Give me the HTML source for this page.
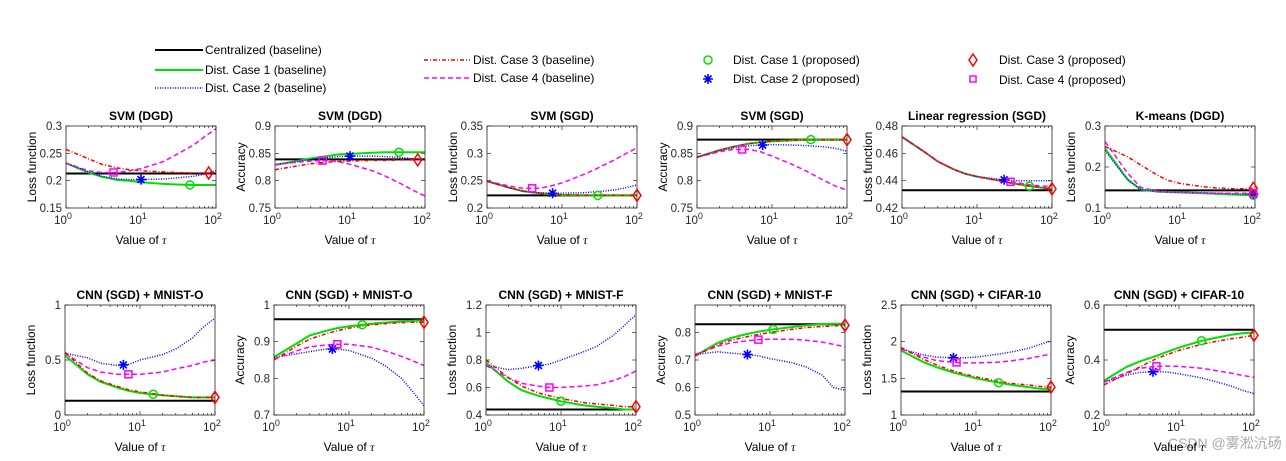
<!DOCTYPE html>
<html><head><meta charset="utf-8"><style>
html,body{margin:0;padding:0;background:#fff;}
svg{display:block;font-family:"Liberation Sans",Arial,sans-serif;}
</style></head><body>
<svg id="fig" width="1286" height="461" viewBox="0 0 1286 461" xmlns="http://www.w3.org/2000/svg">
<g id="legend" font-size="12" fill="#000">
 <g><line x1="155" y1="50" x2="203" y2="50" stroke="#000" stroke-width="2"/><text x="205" y="54">Centralized (baseline)</text></g>
 <g><line x1="155" y1="70" x2="203" y2="70" stroke="#00e000" stroke-width="2"/><text x="205" y="74">Dist. Case 1 (baseline)</text></g>
 <g><line x1="155" y1="88" x2="203" y2="88" stroke="#0000ff" stroke-width="1.5" stroke-dasharray="1,1.5"/><text x="205" y="92">Dist. Case 2 (baseline)</text></g>
 <g><line x1="424" y1="60" x2="470" y2="60" stroke="#ff0000" stroke-width="1.5" stroke-dasharray="4,2,1,2"/><text x="473" y="64">Dist. Case 3 (baseline)</text></g>
 <g><line x1="424" y1="78" x2="470" y2="78" stroke="#ff00ff" stroke-width="1.5" stroke-dasharray="5,3"/><text x="473" y="82">Dist. Case 4 (baseline)</text></g>
 <g><circle cx="708" cy="60" r="4" fill="none" stroke="#00e000" stroke-width="1.5"/><text x="733" y="64">Dist. Case 1 (proposed)</text></g>
 <g><path d="M703,79 H713 M708,74 V84 M704.5,75.5 L711.5,82.5 M704.5,82.5 L711.5,75.5" stroke="#0000ff" stroke-width="1.6"/><text x="733" y="83">Dist. Case 2 (proposed)</text></g>
 <g><path d="M973,54 L977,60 L973,66 L969,60 Z" fill="none" stroke="#ff0000" stroke-width="1.5"/><text x="999" y="64">Dist. Case 3 (proposed)</text></g>
 <g><rect x="970" y="76" width="6" height="6" fill="none" stroke="#ff00ff" stroke-width="1.5"/><text x="999" y="84">Dist. Case 4 (proposed)</text></g>
</g>
<text x="1168" y="448" font-size="14" fill="#aaa" font-family="Liberation Sans, Noto Sans CJK SC, sans-serif">CSDN @雾淞沆砀</text>
</svg>
<script>
const taus = [1,2,3,5,7,10,20,30,50,70,100];
const titles = ["SVM (DGD)","SVM (DGD)","SVM (SGD)","SVM (SGD)","Linear regression (SGD)","K-means (DGD)",
 "CNN (SGD) + MNIST-O","CNN (SGD) + MNIST-O","CNN (SGD) + MNIST-F","CNN (SGD) + MNIST-F","CNN (SGD) + CIFAR-10","CNN (SGD) + CIFAR-10"];
const ylabels = ["Loss function","Accuracy","Loss function","Accuracy","Loss function","Loss function",
 "Loss function","Accuracy","Loss function","Accuracy","Loss function","Accuracy"];
const yRanges = [[0.15,0.3],[0.75,0.9],[0.2,0.35],[0.75,0.9],[0.42,0.48],[0.1,0.3],[0,1],[0.7,1],[0.4,1.2],[0.5,0.9],[1,2.5],[0.2,0.6]];
const yTicks = [[0.15,0.2,0.25,0.3],[0.75,0.8,0.85,0.9],[0.2,0.25,0.3,0.35],[0.75,0.8,0.85,0.9],[0.42,0.44,0.46,0.48],[0.1,0.2,0.3],
 [0,0.5,1],[0.7,0.8,0.9,1],[0.4,0.6,0.8,1,1.2],[0.5,0.6,0.7,0.8],[1,1.5,2,2.5],[0.2,0.4,0.6]];
const centralized = [0.213,0.839,0.223,0.875,0.433,0.143,0.13,0.961,0.44,0.83,1.32,0.51];
const case1 = [
 [0.232,0.215,0.207,0.201,0.200,0.197,0.194,0.193,0.192,0.192,0.192],
 [0.829,0.836,0.841,0.845,0.848,0.849,0.851,0.852,0.852,0.852,0.852],
 [0.249,0.237,0.231,0.227,0.225,0.224,0.223,0.223,0.223,0.223,0.223],
 [0.843,0.856,0.862,0.868,0.870,0.872,0.874,0.875,0.875,0.875,0.875],
 [0.472,0.461,0.454,0.448,0.445,0.443,0.440,0.438,0.436,0.435,0.434],
 [0.245,0.170,0.145,0.140,0.139,0.138,0.136,0.135,0.133,0.132,0.131],
 [0.54,0.37,0.30,0.25,0.22,0.20,0.18,0.17,0.16,0.16,0.16],
 [0.858,0.895,0.917,0.930,0.937,0.942,0.949,0.952,0.955,0.957,0.958],
 [0.78,0.64,0.58,0.54,0.52,0.50,0.47,0.46,0.45,0.44,0.44],
 [0.715,0.762,0.780,0.795,0.803,0.810,0.820,0.826,0.830,0.832,0.832],
 [1.88,1.72,1.65,1.58,1.54,1.50,1.44,1.41,1.38,1.36,1.35],
 [0.325,0.375,0.395,0.415,0.430,0.445,0.470,0.480,0.492,0.497,0.500]];
const case2 = [
 [0.232,0.216,0.208,0.203,0.202,0.202,0.203,0.205,0.208,0.212,0.218],
 [0.829,0.835,0.839,0.842,0.844,0.845,0.845,0.844,0.842,0.840,0.838],
 [0.249,0.237,0.231,0.228,0.227,0.227,0.228,0.230,0.233,0.237,0.242],
 [0.843,0.855,0.860,0.864,0.865,0.866,0.865,0.864,0.862,0.859,0.854],
 [0.472,0.461,0.454,0.448,0.445,0.443,0.441,0.440,0.440,0.440,0.440],
 [0.240,0.168,0.145,0.140,0.139,0.138,0.137,0.136,0.135,0.134,0.134],
 [0.56,0.52,0.47,0.45,0.46,0.50,0.55,0.60,0.70,0.80,0.88],
 [0.857,0.867,0.873,0.880,0.880,0.876,0.855,0.835,0.800,0.765,0.725],
 [0.76,0.73,0.74,0.76,0.77,0.80,0.86,0.90,0.98,1.05,1.13],
 [0.72,0.73,0.725,0.72,0.715,0.705,0.69,0.675,0.645,0.60,0.59],
 [1.90,1.82,1.79,1.78,1.78,1.79,1.83,1.86,1.91,1.96,2.01],
 [0.32,0.345,0.355,0.358,0.356,0.350,0.335,0.322,0.305,0.290,0.278]];
const case3 = [
 [0.257,0.240,0.230,0.223,0.220,0.218,0.216,0.215,0.214,0.214,0.214],
 [0.820,0.827,0.831,0.834,0.835,0.836,0.837,0.837,0.838,0.838,0.838],
 [0.249,0.237,0.231,0.227,0.225,0.224,0.223,0.223,0.223,0.223,0.223],
 [0.843,0.856,0.862,0.868,0.870,0.872,0.874,0.875,0.875,0.875,0.875],
 [0.472,0.461,0.454,0.448,0.445,0.443,0.440,0.438,0.436,0.435,0.434],
 [0.250,0.225,0.205,0.180,0.167,0.160,0.152,0.149,0.147,0.147,0.148],
 [0.57,0.38,0.31,0.26,0.23,0.21,0.18,0.17,0.16,0.16,0.16],
 [0.850,0.888,0.907,0.922,0.930,0.937,0.946,0.949,0.952,0.953,0.953],
 [0.80,0.67,0.61,0.56,0.54,0.52,0.49,0.48,0.47,0.46,0.46],
 [0.715,0.755,0.772,0.785,0.793,0.800,0.812,0.818,0.822,0.824,0.826],
 [1.92,1.76,1.68,1.60,1.56,1.52,1.46,1.43,1.41,1.39,1.38],
 [0.31,0.350,0.375,0.405,0.420,0.435,0.457,0.467,0.477,0.483,0.490]];
const case4 = [
 [0.232,0.218,0.215,0.215,0.218,0.222,0.235,0.248,0.265,0.280,0.295],
 [0.829,0.834,0.836,0.837,0.835,0.830,0.818,0.808,0.793,0.782,0.772],
 [0.249,0.240,0.236,0.236,0.240,0.246,0.262,0.273,0.288,0.299,0.310],
 [0.843,0.853,0.857,0.857,0.853,0.845,0.828,0.816,0.800,0.790,0.783],
 [0.472,0.461,0.454,0.448,0.445,0.443,0.440,0.439,0.437,0.436,0.436],
 [0.262,0.185,0.150,0.141,0.139,0.138,0.137,0.136,0.136,0.136,0.136],
 [0.56,0.43,0.39,0.37,0.37,0.37,0.39,0.42,0.45,0.48,0.50],
 [0.852,0.875,0.886,0.891,0.893,0.893,0.885,0.875,0.860,0.848,0.835],
 [0.76,0.67,0.63,0.61,0.60,0.60,0.61,0.62,0.65,0.68,0.72],
 [0.72,0.75,0.762,0.770,0.774,0.776,0.775,0.772,0.765,0.757,0.748],
 [1.90,1.79,1.74,1.72,1.71,1.71,1.72,1.74,1.77,1.80,1.83],
 [0.32,0.355,0.370,0.377,0.378,0.377,0.370,0.362,0.352,0.344,0.337]];
const markTau1 = [45,45,30,33,50,95,15,15,10,11,20,20];
const markTau2 = [10,10,7.5,7.5,23,95,6,6,5,5,5,4.5];
const markTau3 = [80,80,100,100,100,95,100,100,100,100,100,100];
const markTau4 = [4.3,4.3,4,4,28,95,7,7,7,7,5.5,5];

const NS="http://www.w3.org/2000/svg";
const svg=document.getElementById('fig');
function mk(tag,attrs,parent){const e=document.createElementNS(NS,tag);for(const k in attrs)e.setAttribute(k,attrs[k]);parent.appendChild(e);return e;}
function interp(arr,t){const lt=Math.log10(t);for(let i=0;i<taus.length-1;i++){const a=Math.log10(taus[i]),b=Math.log10(taus[i+1]);if(lt<=b){const f=(lt-a)/(b-a);return arr[i]+(arr[i+1]-arr[i])*f;}}return arr[arr.length-1];}
const topX=[66,275,487,697,902,1105], botX=[65,274,486,695,901,1104];
const W=150;
for(let p=0;p<12;p++){
 const row=p<6?0:1;
 const x0=row?botX[p-6]:topX[p];
 const y0=row?305:126, H=row?110:82;
 const [ymin,ymax]=yRanges[p];
 const sx=t=>x0+Math.log10(t)/2*W;
 const sy=v=>y0+H-(v-ymin)/(ymax-ymin)*H;
 const g=mk('g',{},svg);
 
 
 const t=mk('text',{x:x0+W/2,y:y0-6,'text-anchor':'middle','font-size':12,'font-weight':'bold'},g);
 t.textContent=titles[p];
 
 
 const yl=mk('text',{x:0,y:0,'text-anchor':'middle','font-size':12,transform:`translate(${x0-30},${y0+H/2}) rotate(-90)`},g);
 yl.textContent=ylabels[p];
 
 
 const xl=mk('text',{x:x0+W/2,y:y0+H+36,'text-anchor':'middle','font-size':12},g);
 xl.innerHTML='Value of <tspan font-family="Liberation Serif, serif" font-style="italic">τ</tspan>';
 
 
 const cid='clip'+p;
 const cp=mk('clipPath',{id:cid},g);mk('rect',{x:x0,y:y0,width:W,height:H},cp);
 const plot=mk('g',{'clip-path':`url(#${cid})`},g);
 const styles=[
  {d:case1[p],c:'#00e000',w:2,da:'',n:'line-case1-baseline'},
  {d:case2[p],c:'#0000ff',w:1.5,da:'1,1.5',n:'line-case2-baseline'},
  {d:case4[p],c:'#ff00ff',w:1.5,da:'5,3',n:'line-case4-baseline'},
  {d:case3[p],c:'#ff0000',w:1.5,da:'4,2,1,2',n:'line-case3-baseline'}];
 const cl=mk('line',{x1:x0,x2:x0+W,y1:sy(centralized[p]),y2:sy(centralized[p]),stroke:'#000','stroke-width':2},plot);
 
 
 for(const s of styles){
  const pts=taus.map((tt,i)=>sx(tt).toFixed(1)+','+sy(s.d[i]).toFixed(1)).join(' ');
  const pl=mk('polyline',{points:pts,fill:'none',stroke:s.c,'stroke-width':s.w,'stroke-dasharray':s.da},plot);
  
  
 }
 const box=mk('rect',{x:x0,y:y0,width:W,height:H,fill:'none',stroke:'#262626','stroke-width':0.8},g);
 
 
 for(let e=0;e<=2;e++){
  for(let m=1;m<=9;m++){
   if(e==2&&m>1)break;
   const xx=sx(m*Math.pow(10,e)), L=m==1?4:2;
   mk('line',{x1:xx,x2:xx,y1:y0+H,y2:y0+H-L,stroke:'#262626','stroke-width':0.7},g);
   mk('line',{x1:xx,x2:xx,y1:y0,y2:y0+L,stroke:'#262626','stroke-width':0.7},g);
  }
  const tl=mk('text',{x:sx(Math.pow(10,e))-3,y:y0+H+16,'text-anchor':'middle','font-size':11.5,fill:'#262626'},g);
  tl.innerHTML='10<tspan dy="-5" font-size="9">'+e+'</tspan>';
  
  
 }
 for(const v of yTicks[p]){
  const yy=sy(v);
  mk('line',{x1:x0,x2:x0+4,y1:yy,y2:yy,stroke:'#262626','stroke-width':0.7},g);
  mk('line',{x1:x0+W,x2:x0+W-4,y1:yy,y2:yy,stroke:'#262626','stroke-width':0.7},g);
  const yt=mk('text',{x:x0-4,y:yy+4,'text-anchor':'end','font-size':11.5,fill:'#262626'},g);
  yt.textContent=String(v);
  
  
 }
 let mx=sx(markTau1[p]),my=sy(interp(case1[p],markTau1[p]));
 const m1=mk('circle',{cx:mx,cy:my,r:4,fill:'none',stroke:'#00e000','stroke-width':1.5},g);
 
 
 mx=sx(markTau2[p]);my=sy(interp(case2[p],markTau2[p]));
 const m2=mk('path',{d:`M${mx-5},${my} H${mx+5} M${mx},${my-5} V${my+5} M${mx-3.5},${my-3.5} L${mx+3.5},${my+3.5} M${mx-3.5},${my+3.5} L${mx+3.5},${my-3.5}`,stroke:'#0000ff','stroke-width':1.6},g);
 
 
 mx=sx(markTau3[p]);my=sy(interp(case3[p],markTau3[p]));
 const m3=mk('path',{d:`M${mx},${my-6} L${mx+4},${my} L${mx},${my+6} L${mx-4},${my} Z`,fill:'none',stroke:'#ff0000','stroke-width':1.5},g);
 
 
 mx=sx(markTau4[p]);my=sy(interp(case4[p],markTau4[p]));
 const m4=mk('rect',{x:mx-3.5,y:my-3.5,width:7,height:7,fill:'none',stroke:'#ff00ff','stroke-width':1.5},g);
 
 
}
</script>
</body></html>
